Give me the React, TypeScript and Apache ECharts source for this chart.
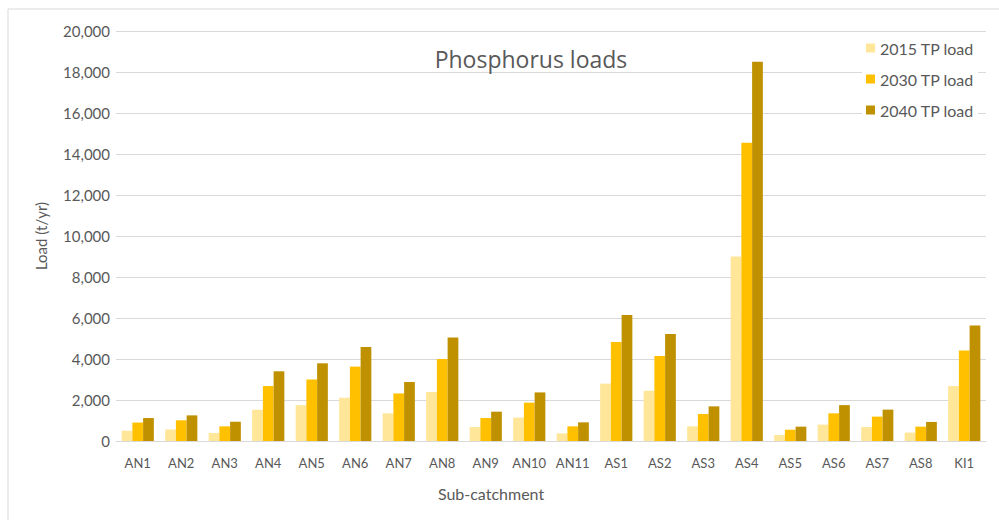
import React, { useEffect, useRef } from "react";
import * as echarts from "echarts";

const categories = ["AN1","AN2","AN3","AN4","AN5","AN6","AN7","AN8","AN9","AN10","AN11","AS1","AS2","AS3","AS4","AS5","AS6","AS7","AS8","KI1"];
const load2015 = [500, 560, 390, 1530, 1750, 2110, 1350, 2390, 680, 1140, 370, 2800, 2450, 715, 9000, 290, 800, 680, 410, 2680];
const load2030 = [900, 1010, 715, 2680, 3000, 3630, 2320, 4000, 1120, 1870, 715, 4830, 4150, 1320, 14550, 550, 1350, 1190, 700, 4410];
const load2040 = [1120, 1250, 940, 3400, 3790, 4590, 2880, 5050, 1430, 2370, 910, 6150, 5220, 1690, 18500, 700, 1750, 1530, 930, 5630];
const seriesNames = ["2015 TP load", "2030 TP load", "2040 TP load"];
const colors = ["#FFE699", "#FFC000", "#BF9000"];

export default function App() {
  const ref = useRef<HTMLDivElement>(null);
  useEffect(() => {
    const chart = echarts.init(ref.current!, null, { renderer: "svg" });
    const font = "Lato, 'Open Sans', sans-serif";
    chart.setOption({
      animation: false,
      backgroundColor: "#ffffff",
      title: {
        text: "Phosphorus loads",
        left: 526,
        textAlign: "center",
        top: 42,
        textStyle: { fontFamily: "'Open Sans', sans-serif", fontSize: 23, fontWeight: "normal", color: "#595959" },
      },
      legend: {
        orient: "vertical",
        left: 862,
        top: 36,
        itemWidth: 9,
        itemHeight: 9,
        itemGap: 15,
        icon: "rect",
        backgroundColor: "#ffffff",
        padding: [4, 4, 4, 4],
        textStyle: { fontFamily: font, fontSize: 16, color: "#595959" },
        data: seriesNames,
      },
      graphic: [
        {
          type: "polyline",
          shape: { points: [[8, 520], [8, 9], [999, 9]] },
          style: { stroke: "#d9d9d9", lineWidth: 1, fill: "none" },
          silent: true,
        },
      ],
      grid: { left: 116, right: 13, top: 31, bottom: 79, containLabel: false },
      xAxis: {
        type: "category",
        data: categories,
        name: "Sub-catchment",
        nameLocation: "middle",
        nameGap: 44,
        nameTextStyle: { fontFamily: font, fontSize: 16, color: "#595959", padding: [0, 120, 0, 0] },
        axisLine: { lineStyle: { color: "#d9d9d9" } },
        axisTick: { show: false },
        axisLabel: { fontFamily: font, fontSize: 13, color: "#595959", margin: 15, interval: 0 },
      },
      yAxis: {
        type: "value",
        min: 0,
        max: 20000,
        interval: 2000,
        name: "Load (t/yr)",
        nameLocation: "middle",
        nameGap: 68,
        nameTextStyle: { fontFamily: font, fontSize: 15, color: "#595959" },
        axisLine: { show: false },
        axisTick: { show: false },
        splitLine: { lineStyle: { color: "#d9d9d9" } },
        axisLabel: {
          fontFamily: font,
          fontSize: 15,
          color: "#595959",
          margin: 6,
          formatter: (v: number) => v.toLocaleString("en-US"),
        },
      },
      series: [load2015, load2030, load2040].map((d, i) => ({
        name: seriesNames[i],
        type: "bar",
        data: d,
        itemStyle: { color: colors[i] },
        barGap: "0%",
        barCategoryGap: "26%",
      })),
    });
    return () => chart.dispose();
  }, []);
  return <div ref={ref} style={{ position: "fixed", left: 0, top: 0, width: 999, height: 520 }} />;
}
